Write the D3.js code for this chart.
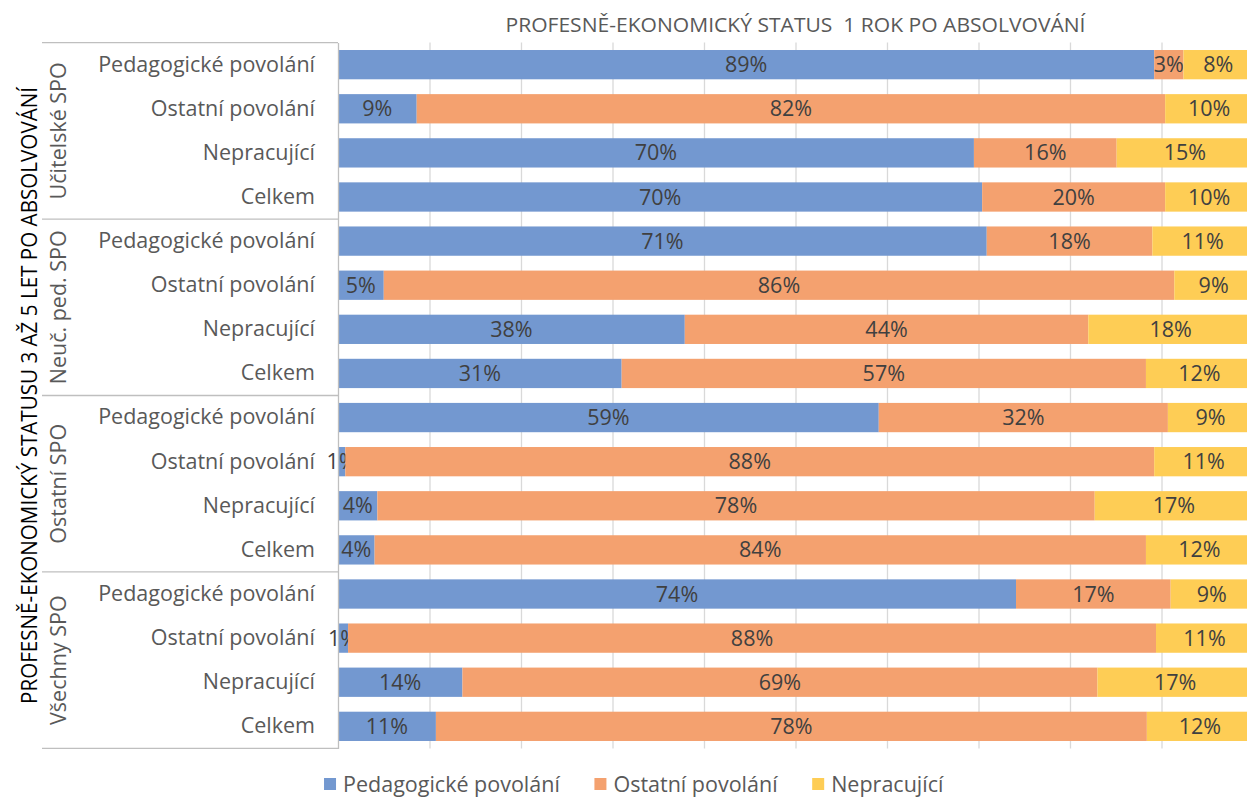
<!DOCTYPE html>
<html>
<head>
<meta charset="utf-8">
<script src="https://cdn.jsdelivr.net/npm/d3@7/dist/d3.min.js"></script>
<style>
  body { margin: 0; background: #fff; }
  text { font-family: "Open Sans", sans-serif; }
</style>
</head>
<body>
<svg id="chart"></svg>
<script>

// skupiny SPO a status 3-5 let po absolvovani (radky grafu)
var groups = ['Učitelské SPO', 'Neuč. ped. SPO', 'Ostatní SPO', 'Všechny SPO']
var statuses = ['Pedagogické povolání', 'Ostatní povolání', 'Nepracující', 'Celkem']

// status 1 rok po absolvovani (serie), v procentech
var seriesNames = ['Pedagogické povolání', 'Ostatní povolání', 'Nepracující']
var pedagogicke = [89.2, 8.6, 69.5, 70.4, 70.9, 5.0, 37.9, 31.0, 59.1, 0.8, 4.3, 4.0, 74.1, 1.1, 13.6, 10.7]
var ostatni     = [3.2, 81.8, 15.6, 20.0, 18.1, 86.4, 44.1, 57.3, 31.6, 88.4, 78.4, 84.3, 16.9, 88.3, 69.4, 77.7]
var nepracujici = [7.6, 9.6, 14.9, 9.6, 11.0, 8.6, 18.0, 11.7, 9.3, 10.8, 17.3, 11.7, 9.0, 10.6, 17.0, 11.6]

var gridTicks = [10, 20, 30, 40, 50, 60, 70, 80, 90, 100]

var title = 'PROFESNĚ-EKONOMICKÝ STATUS  1 ROK PO ABSOLVOVÁNÍ'
var yTitle = 'PROFESNĚ-EKONOMICKÝ STATUSU 3 AŽ 5 LET PO ABSOLVOVÁNÍ'

var colours = ['#7398d0', '#f4a16f', '#fecd55']

var width = 1247,
    height = 799,
    margins = { top: 42.6, left: 338, right: -6, bottom: 50.6 },
    fontSize = '21.5px'

var plotW = width - margins.left - margins.right,
    plotH = height - margins.top - margins.bottom

var svg = d3.select('#chart')
    .attr('width', width)
    .attr('height', height)

// one row per group x status
var rows = []
groups.forEach(function (g, gi) {
  statuses.forEach(function (s, si) {
    var i = gi * statuses.length + si
    rows.push({
      id: i,
      group: g,
      status: s,
      'Pedagogické povolání': pedagogicke[i],
      'Ostatní povolání': ostatni[i],
      'Nepracující': nepracujici[i]
    })
  })
})

var stacked = d3.stack().keys(seriesNames)(rows)

var xScale = d3.scaleLinear()
    .domain([0, 100])
    .range([margins.left, margins.left + plotW])

var yScale = d3.scaleBand()
    .domain(rows.map(function (d) { return d.id }))
    .range([margins.top, margins.top + plotH])
    .paddingInner(0.336)
    .paddingOuter(0.168)

// gridlines
svg.append('g')
    .attr('transform', 'translate(0,' + (margins.top + plotH) + ')')
    .call(d3.axisBottom(xScale).tickValues(gridTicks).tickSize(-plotH).tickFormat(''))
    .call(function (g) {
      g.select('.domain').remove()
      g.selectAll('line').attr('stroke', '#d9d9d9').attr('stroke-width', 1.3)
    })

// bars
var layer = svg.append('g').selectAll('g')
    .data(stacked)
    .enter().append('g')
    .style('fill', function (d, i) { return colours[i] })

layer.selectAll('rect')
    .data(function (d) { return d })
    .enter().append('rect')
    .attr('x', function (d) { return xScale(d[0]) })
    .attr('y', function (d) { return yScale(d.data.id) })
    .attr('width', function (d) { return xScale(d[1]) - xScale(d[0]) })
    .attr('height', yScale.bandwidth())

// data labels
layer.selectAll('text')
    .data(function (d) { return d })
    .enter().append('text')
    .attr('x', function (d) { return (xScale(d[0]) + xScale(d[1])) / 2 })
    .attr('y', function (d) { return yScale(d.data.id) + yScale.bandwidth() / 2 })
    .attr('dy', '0.35em')
    .attr('text-anchor', 'middle')
    .style('fill', '#404040')
    .style('font-size', fontSize)
    .text(function (d) { return Math.round(d[1] - d[0]) + '%' })

// category axis
var yAxis = svg.append('g')
    .attr('transform', 'translate(' + margins.left + ',0)')
    .call(d3.axisLeft(yScale).tickSize(0).tickPadding(23)
      .tickFormat(function (id) { return rows[id].status }))

yAxis.select('.domain').attr('stroke', '#bfbfbf').attr('stroke-width', 1.3)
yAxis.selectAll('text')
    .style('font-size', fontSize)
    .style('fill', '#595959')

// group separators and group labels
var groupH = plotH / groups.length
var sep = svg.append('g')
sep.selectAll('line')
    .data(d3.range(groups.length + 1))
    .enter().append('line')
    .attr('x1', 42)
    .attr('x2', margins.left)
    .attr('y1', function (k) { return margins.top + k * groupH })
    .attr('y2', function (k) { return margins.top + k * groupH })
    .attr('stroke', '#bfbfbf')
    .attr('stroke-width', 1.3)

sep.selectAll('text')
    .data(groups)
    .enter().append('text')
    .attr('transform', function (d, i) {
      return 'translate(66,' + (margins.top + (i + 0.5) * groupH) + ') rotate(-90)'
    })
    .attr('text-anchor', 'middle')
    .style('font-size', fontSize)
    .style('fill', '#595959')
    .text(function (d) { return d })

// titles
svg.append('text')
    .attr('x', (margins.left + xScale(100)) / 2)
    .attr('y', 32)
    .attr('text-anchor', 'middle')
    .attr('textLength', 580)
    .attr('lengthAdjust', 'spacingAndGlyphs')
    .style('white-space', 'pre')
    .style('font-size', '20px')
    .style('fill', '#595959')
    .text(title)

svg.append('text')
    .attr('transform', 'translate(37,' + (margins.top + plotH / 2) + ') rotate(-90)')
    .attr('text-anchor', 'middle')
    .attr('textLength', 617)
    .attr('lengthAdjust', 'spacingAndGlyphs')
    .style('font-size', '21px')
    .style('fill', '#000')
    .text(yTitle)

// legend
var legend = svg.append('g')
var item = legend.selectAll('g')
    .data(seriesNames)
    .enter().append('g')

item.append('rect')
    .attr('width', 12)
    .attr('height', 12)
    .attr('y', -6)
    .style('fill', function (d, i) { return colours[i] })

item.append('text')
    .attr('x', 19)
    .attr('dy', '0.35em')
    .style('font-size', fontSize)
    .style('fill', '#595959')
    .text(function (d) { return d })

var xOffset = 0
var offsets = []
item.each(function () {
  offsets.push(xOffset)
  xOffset += this.getBBox().width + 34
})
var legendW = xOffset - 34
item.attr('transform', function (d, i) { return 'translate(' + offsets[i] + ',0)' })
legend.attr('transform', 'translate(' + (634 - legendW / 2) + ',784)')

</script>
</body>
</html>
